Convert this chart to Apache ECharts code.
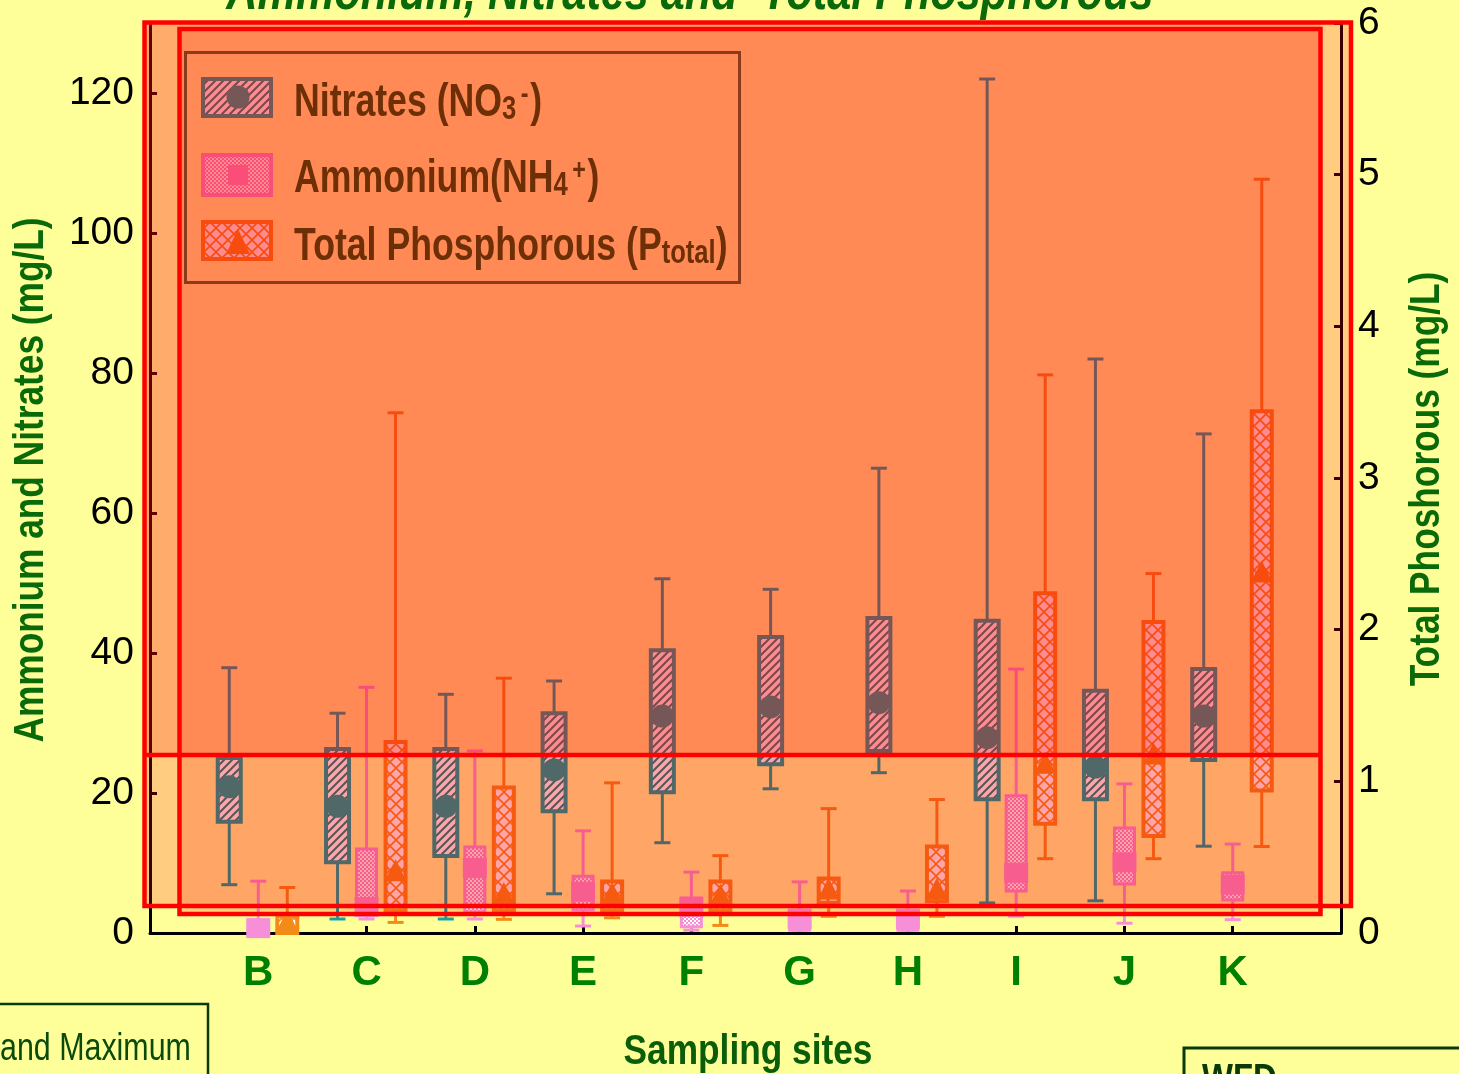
<!DOCTYPE html>
<html><head><meta charset="utf-8">
<script src="https://cdn.jsdelivr.net/npm/echarts@6/dist/echarts.min.js"></script>
<style>html,body{margin:0;padding:0;background:#FFFF99;overflow:hidden}#c{width:1459px;height:1074px}</style>
</head><body><div id="c"></div>
<script>
// ---------------- data ----------------
const sites = ['B','C','D','E','F','G','H','I','J','K'];
const xCategories = [''].concat(sites, ['']);

const nitrateMin  = [6.9, 2.0, 2.0, 5.6, 12.9, 20.6, 22.9, 4.3, 4.6, 12.4];
const nitrateQ1   = [15.9, 10.1, 11.0, 17.4, 20.1, 24.1, 26.0, 19.1, 19.1, 24.7];
const nitrateQ3   = [25.0, 26.3, 26.3, 31.4, 40.4, 42.3, 45.0, 44.6, 34.6, 37.7];
const nitrateMax  = [37.9, 31.4, 34.1, 36.0, 50.6, 49.1, 66.4, 122.0, 82.0, 71.3];
const nitrateMean = [20.9, 18.1, 18.1, 23.3, 31.0, 32.3, 32.9, 27.9, 23.7, 31.0];

const ammoniumMin  = [0.0, 2.0, 2.0, 1.0, 0.4, 0.4, 0.4, 2.4, 1.4, 1.9];
const ammoniumQ1   = [0.0, 3.0, 3.0, 3.3, 0.9, 0.4, 0.4, 6.0, 7.0, 4.7];
const ammoniumQ3   = [1.6, 12.0, 12.3, 8.1, 5.0, 3.3, 3.3, 19.6, 15.0, 8.6];
const ammoniumMax  = [7.4, 35.1, 26.0, 14.6, 8.7, 7.3, 6.0, 37.7, 21.3, 12.7];
const ammoniumMean = [0.7, 3.7, 9.3, 5.9, 3.7, 2.0, 2.0, 8.6, 10.1, 6.9];

const phosMin  = [0.00, 0.07, 0.09, 0.10, 0.05, 0.11, 0.11, 0.49, 0.49, 0.57];
const phosQ1   = [0.00, 0.15, 0.15, 0.15, 0.15, 0.20, 0.21, 0.72, 0.64, 0.94];
const phosQ3   = [0.11, 1.26, 0.96, 0.34, 0.34, 0.36, 0.57, 2.24, 2.05, 3.44];
const phosMax  = [0.30, 3.43, 1.68, 0.99, 0.51, 0.82, 0.88, 3.68, 2.37, 4.97];
const phosMean = [0.07, 0.40, 0.25, 0.25, 0.24, 0.28, 0.28, 1.11, 1.17, 2.37];

const leftAxisMax = 130, leftAxisInterval = 20;
const rightAxisMax = 6, rightAxisInterval = 1;

const titleText = 'Ammonium, Nitrates and  Total Phosphorous';
const leftAxisName = 'Ammonium and Nitrates (mg/L)';
const rightAxisName = 'Total Phoshorous (mg/L)';
const xAxisName = 'Sampling sites';

// ---------------- styling ----------------
const SANS = '"Liberation Sans", Arial, Helvetica, sans-serif';
const NARROW_SCALE = 0.82;
const LEGEND_SCALE = 0.775;
const C_NIT = 'rgb(31,160,156)';
const C_AMM = 'rgb(246,142,216)';
const C_PHO = 'rgb(242,139,24)';
const C_LEG_TXT = 'rgb(17,83,9)';
const C_LEG_BRD = 'rgb(64,107,46)';
const C_NAME = '#0A6A0A';

function makeCanvas(w, h) { const c = document.createElement('canvas'); c.width = w; c.height = h; return c; }
function stripePattern() {
  const c = makeCanvas(8, 8), g = c.getContext('2d');
  g.fillStyle = '#ffffff'; g.fillRect(0, 0, 8, 8);
  g.strokeStyle = 'rgb(40,130,128)'; g.lineWidth = 2;
  g.beginPath();
  g.moveTo(-2, 10); g.lineTo(10, -2);
  g.moveTo(-6, 6); g.lineTo(6, -6);
  g.moveTo(2, 14); g.lineTo(14, 2);
  g.stroke();
  return { image: c, repeat: 'repeat' };
}
function checkerPattern() {
  const c = makeCanvas(4, 4), g = c.getContext('2d');
  g.fillStyle = '#ffffff'; g.fillRect(0, 0, 4, 4);
  g.fillStyle = C_AMM; g.fillRect(0, 0, 2, 2); g.fillRect(2, 2, 2, 2);
  return { image: c, repeat: 'repeat' };
}
function crossPattern() {
  const c = makeCanvas(12, 12), g = c.getContext('2d');
  g.fillStyle = '#ffffff'; g.fillRect(0, 0, 12, 12);
  g.strokeStyle = C_PHO; g.lineWidth = 1.6;
  g.beginPath();
  g.moveTo(0, 0); g.lineTo(12, 12);
  g.moveTo(0, 12); g.lineTo(12, 0);
  g.stroke();
  return { image: c, repeat: 'repeat' };
}
const P_NIT = stripePattern(), P_AMM = checkerPattern(), P_PHO = crossPattern();

function buildData(mn, q1, q3, mx, mean) {
  return sites.map((s, i) => [i + 1, mn[i], q1[i], q3[i], mx[i], mean[i]]);
}

function makeRender(cfg) {
  return function (params, api) {
    const idx = api.value(0);
    const band = api.size([1, 0])[0];
    const cx = api.coord([idx, 0])[0] + cfg.offset * band;
    const y = v => api.coord([idx, v])[1];
    const yMin = y(api.value(1)), yQ1 = y(api.value(2)), yQ3 = y(api.value(3)),
          yMax = y(api.value(4)), yMean = y(api.value(5));
    const hw = cfg.boxW / 2, cap = cfg.capW / 2;
    const ls = { stroke: cfg.color, lineWidth: cfg.whiskerW };
    const ch = [
      { type: 'line', shape: { x1: cx, y1: yMax, x2: cx, y2: yQ3 }, style: ls },
      { type: 'line', shape: { x1: cx - cap, y1: yMax, x2: cx + cap, y2: yMax }, style: ls },
      { type: 'line', shape: { x1: cx, y1: yQ1, x2: cx, y2: yMin }, style: ls },
      { type: 'line', shape: { x1: cx - cap, y1: yMin, x2: cx + cap, y2: yMin }, style: ls },
      { type: 'rect', shape: { x: cx - hw, y: yQ3, width: cfg.boxW, height: Math.max(yQ1 - yQ3, 1) },
        style: { fill: cfg.pattern, stroke: cfg.color, lineWidth: cfg.boxLine } }
    ];
    if (cfg.marker === 'circle') {
      ch.push({ type: 'circle', shape: { cx: cx, cy: yMean, r: 11.5 }, style: { fill: cfg.color } });
    } else if (cfg.marker === 'square') {
      ch.push({ type: 'rect', shape: { x: cx - 12, y: yMean - 10, width: 24, height: 20 }, style: { fill: cfg.color } });
    } else {
      ch.push({ type: 'polygon', shape: { points: [[cx, yMean - 13], [cx + 11, yMean + 9], [cx - 11, yMean + 9]] }, style: { fill: cfg.color } });
    }
    return { type: 'group', children: ch };
  };
}

function richStyles() {
  return {
    m:   { fontFamily: SANS, fontSize: 46, fontWeight: 'bold', fill: C_LEG_TXT, lineHeight: 46 },
    sub: { fontFamily: SANS, fontSize: 33, fontWeight: 'bold', fill: C_LEG_TXT, lineHeight: 30, padding: [24, 0, 0, 0], verticalAlign: 'bottom' },
    sup: { fontFamily: SANS, fontSize: 30, fontWeight: 'bold', fill: C_LEG_TXT, lineHeight: 12, padding: [0, 2, 0, 6], verticalAlign: 'top' }
  };
}

// ---------------- overlays / decorations ----------------
const A = { x: 144.5, y: 22.5, w: 1206.5, h: 883.5 };
const B = { x: 179.5, y: 29, w: 1141, h: 885 };
const Cr = { x: 144.5, y: 22.5, w: 1176, h: 732.5 };

const graphics = [
  // title
  { type: 'text', x: 690, y: 21, z: 80, silent: true, scaleX: 0.8,
    style: { text: titleText, align: 'center', verticalAlign: 'bottom',
      fontFamily: SANS, fontSize: 54, fontWeight: 'bold', fontStyle: 'italic', fill: '#0A6A0A',
      textShadowColor: '#1a1a1a', textShadowOffsetX: 3, textShadowOffsetY: 3, textShadowBlur: 0 } },
  // axis names
  { type: 'text', x: 31, y: 480, z: 80, silent: true, rotation: Math.PI / 2, scaleX: NARROW_SCALE,
    style: { text: leftAxisName, align: 'center', verticalAlign: 'middle', fontFamily: SANS, fontSize: 43, fontWeight: 'bold', fill: C_NAME } },
  { type: 'text', x: 1427, y: 479, z: 80, silent: true, rotation: Math.PI / 2, scaleX: NARROW_SCALE,
    style: { text: rightAxisName, align: 'center', verticalAlign: 'middle', fontFamily: SANS, fontSize: 43, fontWeight: 'bold', fill: C_NAME } },
  { type: 'text', x: 748, y: 1052, z: 80, silent: true, scaleX: NARROW_SCALE,
    style: { text: xAxisName, align: 'center', verticalAlign: 'middle', fontFamily: SANS, fontSize: 43, fontWeight: 'bold', fill: '#0A5E0A' } },
  // legend (drawn under the tint overlays)
  { type: 'group', z: 5, silent: true, children: [
    { type: 'rect', shape: { x: 185.5, y: 52.5, width: 554, height: 230 }, style: { fill: 'none', stroke: C_LEG_BRD, lineWidth: 3 } },
    { type: 'rect', shape: { x: 203, y: 79, width: 68, height: 37 }, style: { fill: P_NIT, stroke: C_NIT, lineWidth: 4 } },
    { type: 'circle', shape: { cx: 238, cy: 97, r: 11.5 }, style: { fill: C_NIT } },
    { type: 'rect', shape: { x: 203, y: 155, width: 68, height: 40 }, style: { fill: P_AMM, stroke: C_AMM, lineWidth: 4 } },
    { type: 'rect', shape: { x: 228, y: 165, width: 20, height: 20 }, style: { fill: C_AMM } },
    { type: 'rect', shape: { x: 203, y: 222, width: 68, height: 37 }, style: { fill: P_PHO, stroke: C_PHO, lineWidth: 4 } },
    { type: 'polygon', shape: { points: [[238, 229], [250, 254], [226, 254]] }, style: { fill: C_PHO } },
    { type: 'text', x: 294, y: 103, scaleX: LEGEND_SCALE, style: { text: '{m|Nitrates (NO}{sub|3}{sup|-}{m|)}', verticalAlign: 'middle', rich: richStyles() } },
    { type: 'text', x: 294, y: 179, scaleX: LEGEND_SCALE, style: { text: '{m|Ammonium(NH}{sub|4}{sup|+}{m|)}', verticalAlign: 'middle', rich: richStyles() } },
    { type: 'text', x: 294, y: 247, scaleX: LEGEND_SCALE, style: { text: '{m|Total Phosphorous (P}{sub|total}{m|)}', verticalAlign: 'middle', rich: richStyles() } }
  ] },
  // tint overlays
  { type: 'rect', z: 50, silent: true, shape: { x: A.x, y: A.y, width: A.w, height: A.h }, style: { fill: 'rgb(255,204,213)', blend: 'multiply' } },
  { type: 'rect', z: 50, silent: true, shape: { x: A.x, y: A.y, width: A.w, height: A.h }, style: { fill: 'rgb(56,0,0)', blend: 'screen' } },
  { type: 'rect', z: 51, silent: true, shape: { x: B.x, y: B.y, width: B.w, height: B.h }, style: { fill: 'rgb(255,207,204)', blend: 'multiply' } },
  { type: 'rect', z: 52, silent: true, shape: { x: Cr.x, y: Cr.y, width: Cr.w, height: Cr.h }, style: { fill: 'rgb(255,214,214)', blend: 'multiply' } },
  { type: 'rect', z: 52, silent: true, shape: { x: Cr.x, y: Cr.y, width: Cr.w, height: Cr.h }, style: { fill: 'rgb(56,0,0)', blend: 'screen' } },
  // red outlines
  { type: 'rect', z: 60, silent: true, shape: { x: A.x, y: A.y, width: A.w, height: A.h }, style: { fill: 'none', stroke: '#FF0000', lineWidth: 4.5 } },
  { type: 'rect', z: 60, silent: true, shape: { x: B.x, y: B.y, width: B.w, height: B.h }, style: { fill: 'none', stroke: '#FF0000', lineWidth: 4.5 } },
  { type: 'line', z: 60, silent: true, shape: { x1: Cr.x, y1: Cr.y + Cr.h, x2: Cr.x + Cr.w, y2: Cr.y + Cr.h }, style: { stroke: '#FF0000', lineWidth: 4.5 } },
  // bottom slide boxes
  { type: 'rect', z: 70, silent: true, shape: { x: -10, y: 1004, width: 218, height: 100 }, style: { fill: 'none', stroke: '#0A3A0A', lineWidth: 2.5 } },
  { type: 'text', z: 70, silent: true, x: 0, y: 1050, scaleX: 0.8, style: { text: 'and Maximum', verticalAlign: 'middle', fontFamily: SANS, fontSize: 38, fill: '#0A4A0A' } },
  { type: 'rect', z: 70, silent: true, shape: { x: 1184, y: 1048, width: 300, height: 60 }, style: { fill: 'none', stroke: '#0A3A0A', lineWidth: 3 } },
  { type: 'text', z: 70, silent: true, x: 1202, y: 1061, scaleX: NARROW_SCALE, style: { text: 'WFD', verticalAlign: 'top', fontFamily: SANS, fontSize: 40, fontWeight: 'bold', fill: '#0A3A0A' } }
];

const chart = echarts.init(document.getElementById('c'), null, { renderer: 'canvas' });
chart.setOption({
  backgroundColor: '#FFFF99',
  animation: false,
  grid: { left: 150, right: 118, top: 23, bottom: 141, containLabel: false },
  xAxis: {
    type: 'category', data: xCategories, boundaryGap: false,
    axisLine: { lineStyle: { color: '#000', width: 3 } },
    axisTick: { inside: true, length: 7, interval: 0, lineStyle: { color: '#000', width: 3 } },
    axisLabel: { margin: 19, interval: 0, fontFamily: SANS, fontSize: 42, fontWeight: 'bold', color: '#008000' },
    splitLine: { show: false }
  },
  yAxis: [
    { type: 'value', min: 0, max: leftAxisMax, interval: leftAxisInterval, position: 'left',
      axisLine: { show: true, lineStyle: { color: '#000', width: 3 } },
      axisTick: { show: true, inside: true, length: 7, lineStyle: { color: '#000', width: 3 } },
      axisLabel: { margin: 16, showMaxLabel: false, fontFamily: SANS, fontSize: 39, color: '#000' },
      splitLine: { show: false } },
    { type: 'value', min: 0, max: rightAxisMax, interval: rightAxisInterval, position: 'right',
      axisLine: { show: true, lineStyle: { color: '#000', width: 3 } },
      axisTick: { show: true, inside: true, length: 7, lineStyle: { color: '#000', width: 3 } },
      axisLabel: { margin: 17, fontFamily: SANS, fontSize: 39, color: '#000' },
      splitLine: { show: false } }
  ],
  graphic: graphics,
  series: [
    { name: 'Nitrates (NO3-)', type: 'custom', silent: true, z: 10, xAxisIndex: 0, yAxisIndex: 0,
      encode: { x: 0, y: [1, 2, 3, 4, 5] },
      renderItem: makeRender({ offset: -0.268, boxW: 23, capW: 16, whiskerW: 3, boxLine: 4, color: C_NIT, pattern: P_NIT, marker: 'circle' }),
      data: buildData(nitrateMin, nitrateQ1, nitrateQ3, nitrateMax, nitrateMean) },
    { name: 'Ammonium (NH4+)', type: 'custom', silent: true, z: 10, xAxisIndex: 0, yAxisIndex: 0,
      encode: { x: 0, y: [1, 2, 3, 4, 5] },
      renderItem: makeRender({ offset: 0.0, boxW: 20, capW: 16, whiskerW: 3, boxLine: 3, color: C_AMM, pattern: P_AMM, marker: 'square' }),
      data: buildData(ammoniumMin, ammoniumQ1, ammoniumQ3, ammoniumMax, ammoniumMean) },
    { name: 'Total Phosphorous (Ptotal)', type: 'custom', silent: true, z: 10, xAxisIndex: 0, yAxisIndex: 1,
      encode: { x: 0, y: [1, 2, 3, 4, 5] },
      renderItem: makeRender({ offset: 0.268, boxW: 20, capW: 16, whiskerW: 3, boxLine: 4, color: C_PHO, pattern: P_PHO, marker: 'triangle' }),
      data: buildData(phosMin, phosQ1, phosQ3, phosMax, phosMean) }
  ]
});
</script>
</body></html>
